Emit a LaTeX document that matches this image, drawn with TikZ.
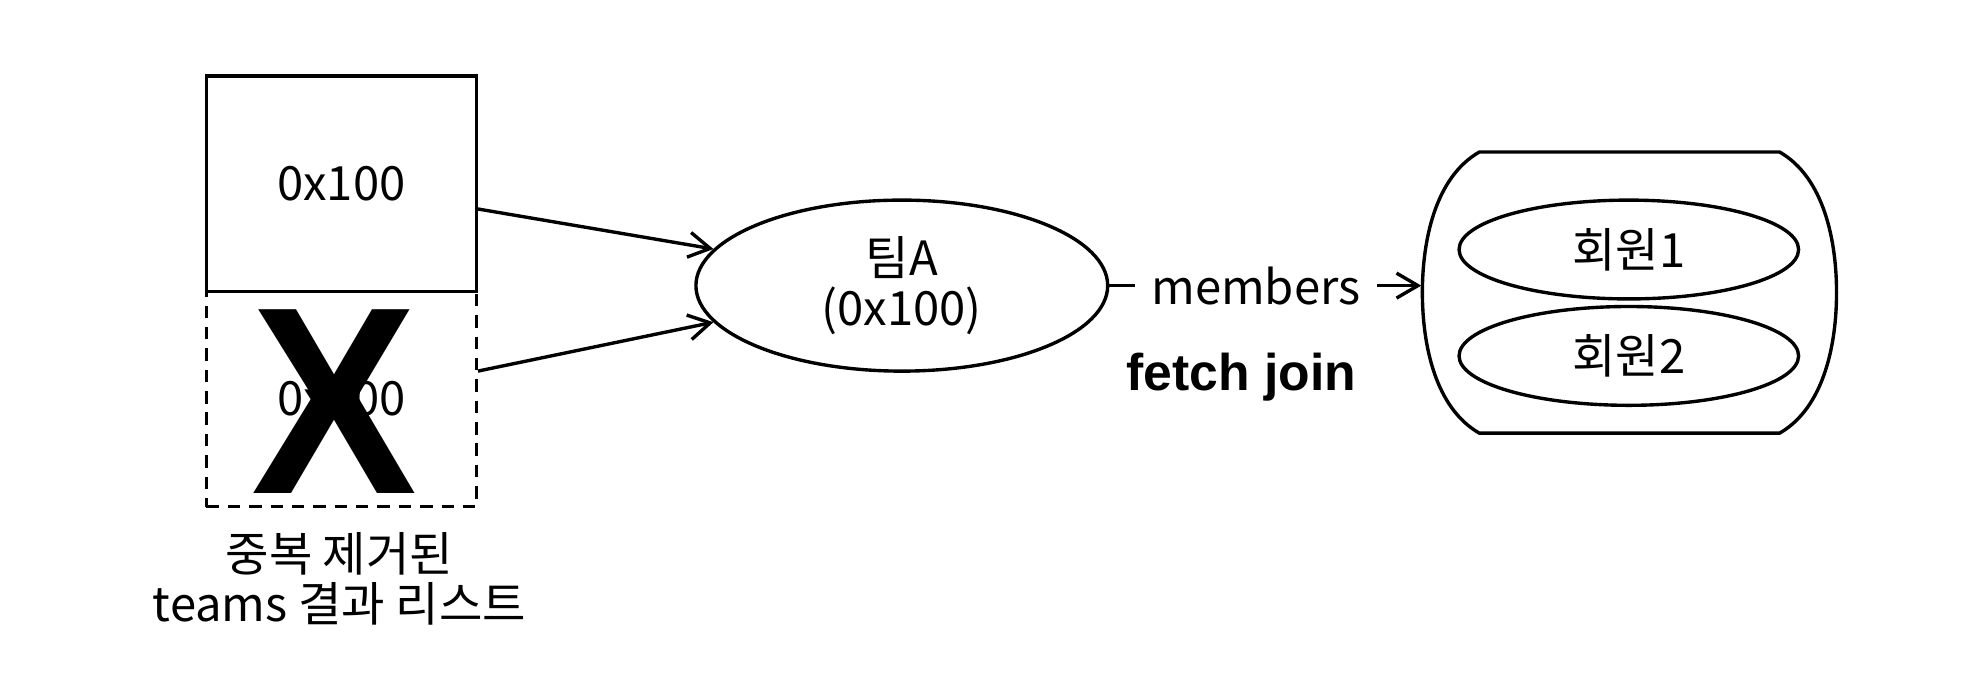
\documentclass[tikz,border=0pt]{standalone}
\usepackage{fontspec}
\setmainfont{Noto Sans CJK KR}
\newfontfamily\latinsans{Liberation Sans}
\usetikzlibrary{arrows.meta,shapes.geometric}
\begin{document}
\begin{tikzpicture}[x=0.025cm,y=-0.025cm,line width=1.9pt,
  txt/.style={font=\fontsize{26.5}{28.5}\selectfont},
  arr/.style={-{Straight Barb[length=12pt,width=14pt,line width=1.9pt]}},
  refbox/.style={draw,txt,minimum width=5.325cm,minimum height=4.25cm,inner sep=0pt},
  ell/.style={draw,ellipse,txt,inner sep=0pt,align=center}]
\useasboundingbox (0,0) rectangle (1568,532);
% boxes
\node[refbox,dash pattern=on 7pt off 5pt] (dup) at (269.5,315) {0x100};
\node[refbox] (orig) at (269.5,145) {0x100};
\node[font=\latinsans\bfseries\fontsize{150}{150}\selectfont,inner sep=0pt,text height=107.4pt,text depth=0pt] (cross) at (264,314) {\scalebox{0.93}[1]{X}};
\node[txt,align=center] (cap) at (268,457) {중복 제거된\\teams 결과 리스트};
% team
\node[ell,minimum width=8.125cm,minimum height=3.375cm] (teamA) at (712,225.5) {팀A\\(0x100)};
\draw[arr] ([yshift=-0.5cm]orig.east) -- (teamA.169.8);
\draw[arr] ([yshift=0.55cm]dup.east) -- (teamA.191.2);
% members group
\node[minimum width=8.15cm,minimum height=5.55cm,inner sep=0pt] (group) at (1286.5,231) {};
\draw (1168,120) -- (1405,120) .. controls (1440,140) and (1450,190) .. (1450,231)
  .. controls (1450,272) and (1440,322) .. (1405,342) -- (1168,342)
  .. controls (1133,322) and (1123,272) .. (1123,231)
  .. controls (1123,190) and (1133,140) .. (1168,120) -- cycle;
\node[ell,minimum width=6.7cm,minimum height=1.95cm] (m1) at (1286,197) {회원1};
\node[ell,minimum width=6.7cm,minimum height=1.95cm] (m2) at (1286,281) {회원2};
\draw[arr] (teamA.east) -- node[pos=0.47,fill=white,txt,inner xsep=9pt]{members} (teamA.east -| group.west);
\node[font=\latinsans\bfseries\fontsize{29}{32}\selectfont] (fj) at (980,298) {fetch join};
\end{tikzpicture}
\end{document}
